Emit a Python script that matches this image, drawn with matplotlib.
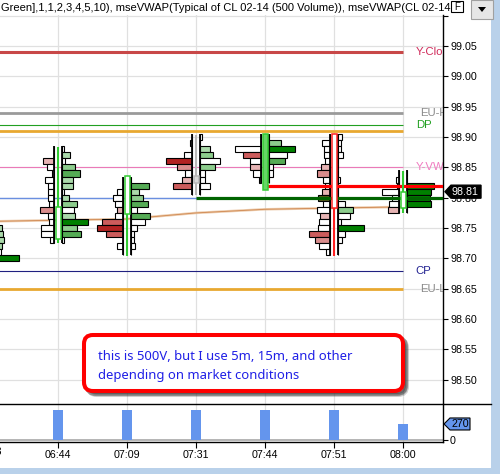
import numpy as np
import matplotlib.pyplot as plt
from matplotlib.patches import Rectangle, Polygon, FancyBboxPatch
from matplotlib.lines import Line2D

plt.rcParams["font.family"] = ["Liberation Sans", "DejaVu Sans"]

# 500-volume bars (the first one is cut off at the left edge)
bar_times = ["06:33", "06:44", "07:09", "07:31", "07:44", "07:51", "08:00"]
bar_volume = [500, 500, 500, 500, 500, 500, 270]

# candle per bar
bar_open = [np.nan, 98.732, 98.773, 98.824, 98.813, 98.905, 98.783]
bar_high = [np.nan, 98.884, 98.836, 98.903, 98.905, 98.905, 98.844]
bar_low = [np.nan, 98.725, 98.704, 98.805, 98.813, 98.704, 98.775]
bar_close = [np.nan, 98.784, 98.836, 98.836, 98.905, 98.783, 98.81]
last_price = 98.81

# footprint: top price of each profile, then bid (left) / ask (right) volume per tick
fp_top = [98.75, 98.88, 98.83, 98.90, 98.90, 98.90, 98.84]

sell_0633 = [0, 0, 0, 0, 0, 0]
buy_0633 = [9, 10, 11, 9, 8, 26]
sell_0644 = [0, 0, 11, 7, 2, 9, 6, 6, 6, 5, 14, 6, 5, 13, 13, 4]
buy_0644 = [2, 8, 3, 13, 18, 11, 11, 2, 7, 15, 12, 13, 26, 15, 19, 2]
sell_0709 = [0, 0, 6, 10, 8, 6, 8, 21, 26, 17, 0, 6, 0]
buy_0709 = [0, 18, 8, 12, 17, 6, 19, 14, 6, 3, 3, 4, 0]
sell_0731 = [0, 2, 0, 8, 26, 15, 7, 10, 19, 0]
buy_0731 = [2, 0, 10, 13, 20, 15, 5, 5, 10, 0]
sell_0744 = [0, 0, 26, 18, 11, 11, 8, 2]
buy_0744 = [0, 12, 26, 18, 16, 4, 4, 0]
sell_0751 = [0, 8, 6, 6, 5, 9, 13, 7, 5, 8, 12, 7, 13, 10, 11, 12, 21, 15, 11, 4]
buy_0751 = [4, 3, 3, 5, 0, 0, 0, 2, 0, 0, 0, 7, 15, 12, 3, 26, 7, 4, 0, 0]
sell_0800 = [0, 3, 2, 17, 7, 10, 11]
buy_0800 = [0, 0, 27, 24, 23, 24, 0]

# imbalance shade per cell (w = none, 1..4 = light..strong)
sell_shade = ["wwwwww", "ww1wwwwwww2wwwww", "wwwww1w343www", "wwww42w13w",
              "www3w1ww", "wwwww12ww1oww1ww32ww", "wwwwww1"]
buy_shade = ["1111w4", "w1w2311w12w1423w", "w3123w3wwwwww", "ww12w2wwww",
             "w24w3www", "wwwwwwwwwwww2ww4wwww", "ww4444w"]

# horizontal reference levels (labels as far as they show before the price axis)
level_names = ["Y-Clo", "EU-H", "DP", "", "Y-VW", "CP", "EU-L"]
level_prices = [99.04, 98.94, 98.92, 98.91, 98.85, 98.68, 98.65]

# developing levels
vwap_x = [0, 1, 2, 3, 4, 5, 6]
vwap_p = [98.761, 98.763, 98.765, 98.775, 98.781, 98.783, 98.785]
poc_price = 98.80
high_vol_price = 98.82

title = "Green],1,1,2,3,4,5,10), mseVWAP(Typical of CL 02-14 (500 Volume)), mseVWAP(CL 02-14"
note_lines = ["this is 500V, but I use 5m, 15m, and other", "depending on market conditions"]

# ---- styles
level_colors = ["#c84848", "#9a9a9a", "#22a022", "#e8a830", "#ea7ab8", "#202080", "#e8a830"]
level_widths = [2.2, 2.0, 0.8, 2.0, 0.8, 0.8, 2.0]
label_colors = ["#d02a5a", "#8a8a8a", "#22a022", "#e8a830", "#f07ac0", "#202090", "#8a8a8a"]
label_x = [6.18, 6.25, 6.19, 6.19, 6.19, 6.18, 6.25]
green = {"w": "white", "1": "#aad9aa", "2": "#8ccc8c", "3": "#55ab55", "4": "#008000"}
red = {"w": "white", "1": "#e6b3b3", "2": "#d98c8c", "3": "#cc5c5c", "4": "#b22222", "o": "#5c5c1e"}
candle_colors = ["#33cc33", "#33cc33", "#33cc33", "#b8b8b8", "#33cc33", "#ff2020", "#33cc33"]
body_fill = ["white", "white", "white", "#d8d8d8", "#66d466", "white", "white"]

W, H = 500, 474
PX = 1 / 69.0  # one pixel in bar units

fig = plt.figure(figsize=(W / 100, H / 100), dpi=100)
fig.patch.set_facecolor("white")
ax = fig.add_axes([0, 1 - 404 / H, 443 / W, 389 / H])
axv = fig.add_axes([0, 1 - 442 / H, 443 / W, 38 / H], sharex=ax)

ax.set_xlim(11 / 69, 454 / 69)
ax.set_ylim(98.4602, 99.1011)
axv.set_ylim(-34, 607)

grid_c = "#e0e0e0"
for a in (ax, axv):
    for s in ("left", "top", "bottom"):
        a.spines[s].set_visible(False)
    a.spines["right"].set_linewidth(1.0)
    a.set_xticks(range(1, len(bar_times)))
    a.grid(True, color=grid_c, linewidth=0.9, zorder=0)
    a.set_axisbelow(True)
axv.spines["bottom"].set_visible(True)
axv.spines["bottom"].set_linewidth(1.0)

ax.yaxis.tick_right()
yt = np.round(np.arange(98.50, 99.101, 0.05), 2)
ax.set_yticks(yt)
ax.set_yticklabels([f"{v:.2f}" if v < 99.08 else "" for v in yt])
ax.tick_params(axis="y", direction="out", length=3.6, width=0.8, labelsize=7.7, pad=1.5)
ax.tick_params(axis="x", length=0, labelbottom=False)

axv.yaxis.tick_right()
axv.set_yticks([0])
axv.set_yticklabels(["0"])
axv.yaxis.grid(False)
axv.tick_params(axis="y", direction="out", length=3.6, width=0.8, labelsize=7.7, pad=1.5)
axv.set_xticklabels(bar_times[1:])
axv.tick_params(axis="x", direction="out", length=4.3, width=0.8, labelsize=7.7, pad=1.5)

# reference levels
for name, p, c, lw, lc, lx in zip(level_names, level_prices, level_colors, level_widths,
                                  label_colors, label_x):
    ax.plot([-1, len(bar_times) - 1], [p, p], color=c, lw=lw, zorder=1, solid_capstyle="butt")
    if name:
        ax.text(lx, p, name, color=lc, fontsize=8.2, va="center", ha="left", clip_on=True, zorder=1)

ax.plot([-1, 3], [poc_price, poc_price], color="#6a8fe0", lw=1.0, zorder=1)
ax.plot(vwap_x, vwap_p, color="#e8bf98", lw=1.8, alpha=0.8, zorder=1)
ax.plot(vwap_x, vwap_p, color="#d08850", lw=0.6, zorder=1)

# footprint profiles
sells = [sell_0633, sell_0644, sell_0709, sell_0731, sell_0744, sell_0751, sell_0800]
buys = [buy_0633, buy_0644, buy_0709, buy_0731, buy_0744, buy_0751, buy_0800]
off = 4.3 * PX
for i, (top, sv, bv, ss, bs) in enumerate(zip(fp_top, sells, buys, sell_shade, buy_shade)):
    prices = top - 0.01 * np.arange(len(sv))
    sw = np.array(sv) * PX
    bw = np.array(bv) * PX
    ax.barh(prices, sw, left=i - off - sw, height=0.01, color=[red[c] for c in ss],
            edgecolor="black", linewidth=0.8, zorder=3)
    ax.barh(prices, bw, left=i + off, height=0.01, color=[green[c] for c in bs],
            edgecolor="black", linewidth=0.8, zorder=3)
    lo, hi = prices[-1] - 0.005, prices[0] + 0.005
    ax.vlines([i - off, i + off], lo, hi, color="black", lw=1.3, zorder=4)

# developing lines drawn over the profiles
ax.plot([3, 8], [poc_price, poc_price], color="#006400", lw=2.3, zorder=5, solid_capstyle="butt")
ax.plot([4, 8], [high_vol_price, high_vol_price], color="#ff0000", lw=2.3, zorder=5,
        solid_capstyle="butt")

# candles
bw_c = 5 * PX
for i in range(len(bar_times)):
    if np.isnan(bar_open[i]):
        continue
    c = candle_colors[i]
    ax.vlines(i, bar_low[i], bar_high[i], color=c, lw=1.5, zorder=6)
    lo, hi = sorted([bar_open[i], bar_close[i]])
    ax.add_patch(Rectangle((i - bw_c / 2, lo), bw_c, max(hi - lo, 0.002), facecolor=body_fill[i],
                           edgecolor=c, lw=1.1, zorder=7))

# volume bars
axv.bar(range(len(bar_times)), bar_volume, width=10 * PX, color="#6495ed", zorder=3)
axv.axhline(0, color="#a8a8a8", lw=1.2, zorder=2)

# last price tag
ty = ax.get_yaxis_transform()
dh = 6.5 / 607
ax.add_patch(Polygon([(1 + 2 / 443, last_price), (1 + 8 / 443, last_price + dh),
                      (1 + 38 / 443, last_price + dh), (1 + 38 / 443, last_price - dh),
                      (1 + 8 / 443, last_price - dh)], closed=True, transform=ty,
                     facecolor="black", edgecolor="black", clip_on=False, zorder=10))
ax.text(1 + 22 / 443, last_price, f"{last_price:.2f}", transform=ty, color="white",
        fontsize=7.7, ha="center", va="center", clip_on=False, zorder=11)

tv = axv.get_yaxis_transform()
vh = 6 * 641 / 38
vlast = bar_volume[-1]
axv.add_patch(Polygon([(1 + 1 / 443, vlast), (1 + 7 / 443, vlast + vh), (1 + 27 / 443, vlast + vh),
                       (1 + 27 / 443, vlast - vh), (1 + 7 / 443, vlast - vh)], closed=True,
                      transform=tv, facecolor="#6495ed", edgecolor="black", lw=0.8,
                      clip_on=False, zorder=10))
axv.text(1 + 17.5 / 443, vlast, str(vlast), transform=tv, color="black", fontsize=7.7,
         ha="center", va="center", clip_on=False, zorder=11)

# cut-off time label of the first bar
axv.text(0, -34 - 5.3 * 641 / 38, bar_times[0], ha="center", va="top", fontsize=7.7,
         clip_on=False)

# note box with shadow
bx0, by0, bx1, by1 = 84 / 443, (404 - 391) / 389, 403 / 443, (404 - 335) / 389
asp = 443 / 389
for dx, dy, al in [(4, 4, 0.25), (3, 3, 0.45)]:
    ax.add_patch(FancyBboxPatch((bx0 + dx / 443, by0 - dy / 389), bx1 - bx0, by1 - by0,
                                boxstyle="round,pad=0,rounding_size=0.02", mutation_aspect=asp,
                                transform=ax.transAxes, facecolor="#404040", edgecolor="#404040",
                                lw=2.9, alpha=al, zorder=18))
ax.add_patch(FancyBboxPatch((bx0, by0), bx1 - bx0, by1 - by0,
                            boxstyle="round,pad=0,rounding_size=0.02", mutation_aspect=asp,
                            transform=ax.transAxes, facecolor="white", edgecolor="#ff0000",
                            lw=2.9, zorder=19))
for txt, ypx in zip(note_lines, [357, 376]):
    ax.text(98 / 443, (404 - ypx) / 389, txt, transform=ax.transAxes, color="#1f1fe6",
            fontsize=9.4, family=["Noto Sans", "DejaVu Sans"], va="center", ha="left", zorder=20)

# window furniture
fig.add_artist(Line2D([0, 491 / W], [1 - 404 / H] * 2, color="black", lw=1.0))
fig.text(1 / W, 1 - 8 / H, title, fontsize=8.0, va="center", ha="left")
fig.add_artist(Rectangle((491 / W, 0), 9 / W, 1, transform=fig.transFigure,
                         facecolor="#b9d1ea", edgecolor="none"))
fig.add_artist(Rectangle((0, 0), 1, 6 / H, transform=fig.transFigure,
                         facecolor="#b9d1ea", edgecolor="none"))
fig.add_artist(Rectangle((451 / W, 1 - 12 / H), 12 / W, 11 / H, transform=fig.transFigure,
                         facecolor="white", edgecolor="black", lw=0.8))
fig.text(457 / W, 1 - 6.5 / H, "F", fontsize=7, ha="center", va="center")
fig.add_artist(Rectangle((471 / W, 1 - 19 / H), 22 / W, 19 / H, transform=fig.transFigure,
                         facecolor="#e6e6e6", edgecolor="#a0a0a0", lw=0.8))
fig.add_artist(Polygon([(478 / W, 1 - 7 / H), (486 / W, 1 - 7 / H), (482 / W, 1 - 12 / H)],
                       closed=True, transform=fig.transFigure, facecolor="black"))

fig.savefig("out.png", dpi=100)
